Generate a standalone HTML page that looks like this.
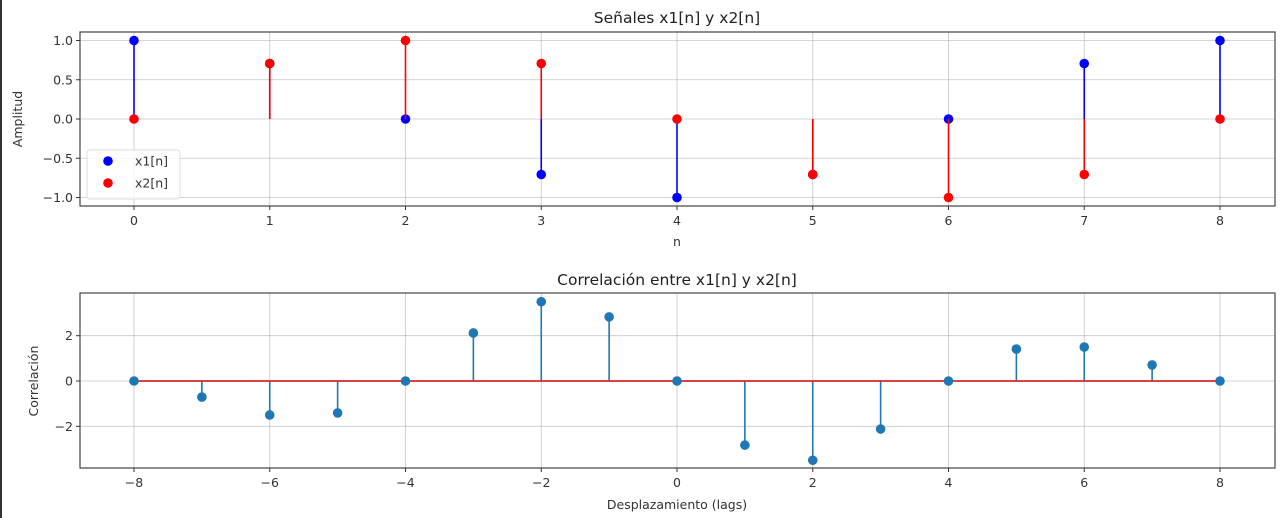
<!DOCTYPE html>
<html><head><meta charset="utf-8"><style>
html,body{margin:0;padding:0;background:#fff;}
svg{display:block;font-family:"DejaVu Sans","Liberation Sans",sans-serif;}
</style></head><body>
<svg id="fig" width="1280" height="518" viewBox="0 0 1280 518">
<rect x="0" y="0" width="2" height="518" fill="#333"/>
</svg>
<script>
const nVals=[0,1,2,3,4,5,6,7,8];
const x1Vals=[1,0.707,0,-0.707,-1,-0.707,0,0.707,1];
const x2Vals=[0,0.707,1,0.707,0,-0.707,-1,-0.707,0];
const topXTicks=[0,1,2,3,4,5,6,7,8];
const topYTicks=[1.0,0.5,0.0,-0.5,-1.0];
const topYLabels=["1.0","0.5","0.0","\u22120.5","\u22121.0"];
const lags=[-8,-7,-6,-5,-4,-3,-2,-1,0,1,2,3,4,5,6,7,8];
const corrVals=[0,-0.71,-1.5,-1.41,0,2.12,3.5,2.83,0,-2.83,-3.5,-2.12,0,1.41,1.5,0.71,0];
const botXTicks=[-8,-6,-4,-2,0,2,4,6,8];
const botYTicks=[2,0,-2];

const svg=document.getElementById('fig');
const NS='http://www.w3.org/2000/svg';
function mk(tag,attrs,parent){const e=document.createElementNS(NS,tag);for(const k in attrs)e.setAttribute(k,attrs[k]);(parent||svg).appendChild(e);return e;}
function txt(s,attrs,parent){const e=mk('text',attrs,parent);e.textContent=s;return e;}
function minus(v){return String(v).replace('-','\u2212');}

// ---- top axes
const T={l:80,r:1275,t:32,b:206};
const tx=v=>134+(v-0)*(1220-134)/8;
const ty=v=>119-v*78.5;
const g1=mk('g',{});


topXTicks.forEach(v=>{const l=mk('line',{x1:tx(v),x2:tx(v),y1:T.t,y2:T.b,stroke:'#b0b0b0','stroke-width':0.8,opacity:0.7},g1);

mk('line',{x1:tx(v),x2:tx(v),y1:T.b,y2:T.b+4,stroke:'#333'},g1);
const t=txt(String(v),{x:tx(v),y:T.b+19,'text-anchor':'middle','font-size':12.5,fill:'#333'},g1);
});
topYTicks.forEach((v,i)=>{const l=mk('line',{x1:T.l,x2:T.r,y1:ty(v),y2:ty(v),stroke:'#b0b0b0','stroke-width':0.8,opacity:0.7},g1);

mk('line',{x1:T.l-4,x2:T.l,y1:ty(v),y2:ty(v),stroke:'#333'},g1);
const t=txt(topYLabels[i],{x:T.l-7,y:ty(v)+4.5,'text-anchor':'end','font-size':12.5,fill:'#333'},g1);
});
function stems(xs,ys,col,name){xs.forEach((n,i)=>{const s=mk('line',{x1:tx(n),x2:tx(n),y1:ty(0),y2:ty(ys[i]),stroke:col,'stroke-width':1.6},g1);
});
xs.forEach((n,i)=>{const c=mk('circle',{cx:tx(n),cy:ty(ys[i]),r:4.8,fill:col},g1);
});}
stems(nVals,x1Vals,'#0000ff','x1');
stems(nVals,x2Vals,'#ff0000','x2');
mk('rect',{x:T.l,y:T.t,width:T.r-T.l,height:T.b-T.t,fill:'none',stroke:'#444','stroke-width':1.2},g1);
let t1=txt('Señales x1[n] y x2[n]',{x:677,y:23,'text-anchor':'middle','font-size':15.5,fill:'#222'},g1);

let xl=txt('n',{x:677,y:246,'text-anchor':'middle','font-size':12.5,fill:'#333'},g1);

let yl=txt('Amplitud',{x:0,y:0,'text-anchor':'middle','font-size':12.5,fill:'#333',transform:'translate(22,119) rotate(-90)'},g1);

const lg=mk('g',{},g1);

mk('rect',{x:87,y:150,width:93,height:49,rx:3,fill:'#fff','fill-opacity':0.8,stroke:'#ddd'},lg);
mk('circle',{cx:108,cy:161,r:4.8,fill:'#0000ff'},lg);
mk('circle',{cx:108,cy:183,r:4.8,fill:'#ff0000'},lg);
let le1=txt('x1[n]',{x:135,y:165.5,'font-size':12.5,fill:'#333'},lg);

let le2=txt('x2[n]',{x:135,y:187.5,'font-size':12.5,fill:'#333'},lg);


// ---- bottom axes
const B={l:80,r:1275,t:293,b:468};
const bx=v=>134+(v+8)*(1220-134)/16;
const by=v=>381-v*22.65;
const g2=mk('g',{});


botXTicks.forEach(v=>{const l=mk('line',{x1:bx(v),x2:bx(v),y1:B.t,y2:B.b,stroke:'#b0b0b0','stroke-width':0.8,opacity:0.7},g2);

mk('line',{x1:bx(v),x2:bx(v),y1:B.b,y2:B.b+4,stroke:'#333'},g2);
const t=txt(minus(v),{x:bx(v),y:B.b+19,'text-anchor':'middle','font-size':12.5,fill:'#333'},g2);
});
botYTicks.forEach(v=>{const l=mk('line',{x1:B.l,x2:B.r,y1:by(v),y2:by(v),stroke:'#b0b0b0','stroke-width':0.8,opacity:0.7},g2);

mk('line',{x1:B.l-4,x2:B.l,y1:by(v),y2:by(v),stroke:'#333'},g2);
const t=txt(minus(v),{x:B.l-7,y:by(v)+4.5,'text-anchor':'end','font-size':12.5,fill:'#333'},g2);
});
lags.forEach((n,i)=>{const s=mk('line',{x1:bx(n),x2:bx(n),y1:by(0),y2:by(corrVals[i]),stroke:'#1f77b4','stroke-width':1.6},g2);
});
const base=mk('line',{x1:bx(lags[0]),x2:bx(lags[lags.length-1]),y1:by(0),y2:by(0),stroke:'#d62728','stroke-width':1.8},g2);

lags.forEach((n,i)=>{const c=mk('circle',{cx:bx(n),cy:by(corrVals[i]),r:4.8,fill:'#1f77b4'},g2);
});
mk('rect',{x:B.l,y:B.t,width:B.r-B.l,height:B.b-B.t,fill:'none',stroke:'#444','stroke-width':1.2},g2);
let t2=txt('Correlación entre x1[n] y x2[n]',{x:677,y:285,'text-anchor':'middle','font-size':15.5,fill:'#222'},g2);

let xl2=txt('Desplazamiento (lags)',{x:677,y:509,'text-anchor':'middle','font-size':12.5,fill:'#333'},g2);

let yl2=txt('Correlación',{x:0,y:0,'text-anchor':'middle','font-size':12.5,fill:'#333',transform:'translate(38,381) rotate(-90)'},g2);

</script>
</body></html>
